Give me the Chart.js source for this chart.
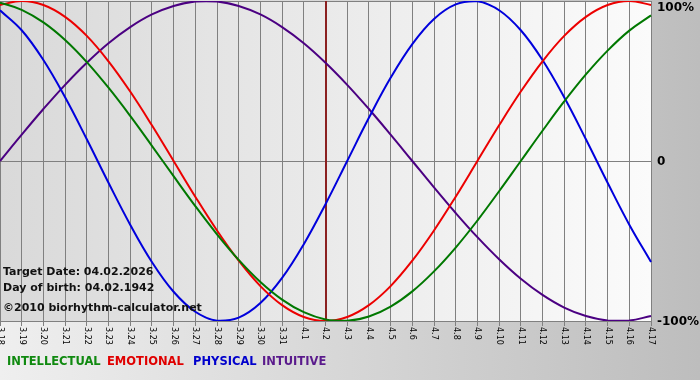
<!DOCTYPE html>
<html>
<head>
<meta charset="utf-8">
<script src="https://cdn.jsdelivr.net/npm/chart.js@4.4.1/dist/chart.umd.min.js"></script>
<style>
  body { margin: 0; padding: 0; background: #ffffff; }
  #wrap { width: 700px; height: 380px; }
</style>
</head>
<body>
<div id="wrap"><canvas id="myChart" width="700" height="380"></canvas></div>
<script>
// DATOS

const dias = ['3.18', '3.19', '3.20', '3.21', '3.22', '3.23', '3.24', '3.25', '3.26', '3.27', '3.28', '3.29', '3.30', '3.31',
    '4.1', '4.2', '4.3', '4.4', '4.5', '4.6', '4.7', '4.8', '4.9', '4.10', '4.11', '4.12', '4.13', '4.14', '4.15', '4.16', '4.17']

const intelectual = [0.990, 0.945, 0.866, 0.756, 0.618, 0.458, 0.282, 0.095, -0.095, -0.282, -0.458, -0.618, -0.756, -0.866, -0.945,
    -0.990, -0.999, -0.972, -0.910, -0.815, -0.690, -0.541, -0.372, -0.189, 0, 0.189, 0.372, 0.541, 0.690, 0.815, 0.910]

const emocional = [0.975, 1.000, 0.975, 0.901, 0.782, 0.623, 0.434, 0.223, 0, -0.223, -0.434, -0.623, -0.782, -0.901, -0.975,
    -1.000, -0.975, -0.901, -0.782, -0.623, -0.434, -0.223, 0, 0.223, 0.434, 0.623, 0.782, 0.901, 0.975, 1.000, 0.975]

const fisico = [0.942, 0.817, 0.631, 0.398, 0.136, -0.136, -0.398, -0.631, -0.817, -0.942, -0.998, -0.979, -0.888, -0.731, -0.520,
    -0.270, 0, 0.270, 0.520, 0.731, 0.888, 0.979, 0.998, 0.942, 0.817, 0.631, 0.398, 0.136, -0.136, -0.398, -0.631]

const intuitivo = [0, 0.165, 0.325, 0.476, 0.614, 0.736, 0.837, 0.916, 0.969, 0.997, 0.997, 0.969, 0.916, 0.837, 0.736,
    0.614, 0.476, 0.325, 0.165, 0, -0.165, -0.325, -0.476, -0.614, -0.736, -0.837, -0.916, -0.969, -0.997, -0.997, -0.969]

const yValores = [-1, 0, 1]
const yEtiquetas = ['-100%', '0', '100%']

const diaMarcado = '4.2'

const leyenda = ['INTELLECTUAL', 'EMOTIONAL', 'PHYSICAL', 'INTUITIVE']
const leyendaColores = ['#108a10', '#e00000', '#0000cc', '#5a1a8c']

const textos = ['Target Date: 04.02.2026', 'Day of birth: 04.02.1942', '\u00a92010 biorhythm-calculator.net']


// FONDO Y TEXTOS

const fondo = {
    id: 'fondo',
    beforeDraw(chart) {
        const { ctx, chartArea: a, width, height } = chart
        ctx.save()
        let g = ctx.createLinearGradient(0, 0, width, 0)
        g.addColorStop(0, '#efefef')
        g.addColorStop(1, '#bdbdbd')
        ctx.fillStyle = g
        ctx.fillRect(0, 0, width, height)
        g = ctx.createLinearGradient(a.left, 0, a.right, 0)
        g.addColorStop(0, '#d9d9d9')
        g.addColorStop(1, '#fbfbfb')
        ctx.fillStyle = g
        ctx.fillRect(a.left, a.top, a.right - a.left, a.bottom - a.top)
        ctx.restore()
    },
    beforeDatasetsDraw(chart) {
        // linea del dia objetivo
        const { ctx, chartArea: a, scales: { x } } = chart
        const px = Math.round(x.getPixelForValue(dias.indexOf(diaMarcado)))
        ctx.save()
        ctx.strokeStyle = '#8b2020'
        ctx.lineWidth = 2
        ctx.beginPath()
        ctx.moveTo(px, a.top)
        ctx.lineTo(px, a.bottom)
        ctx.stroke()
        ctx.restore()
    },
    afterDraw(chart) {
        const { ctx, chartArea: a, scales: { x, y } } = chart
        ctx.save()

        // etiquetas eje x (giradas)
        ctx.fillStyle = '#000'
        ctx.font = '8px "DejaVu Sans"'
        ctx.textAlign = 'left'
        ctx.textBaseline = 'middle'
        dias.forEach((d, i) => {
            ctx.save()
            ctx.translate(x.getPixelForValue(i), a.bottom + 6)
            ctx.rotate(Math.PI / 2)
            ctx.fillText(d, 0, 0)
            ctx.restore()
        })

        // etiquetas eje y
        ctx.font = 'bold 12px "DejaVu Sans"'
        yValores.forEach((v, i) => {
            const py = Math.max(y.getPixelForValue(v), a.top + 6)
            ctx.fillText(yEtiquetas[i], a.right + 6, py + 1)
        })

        // textos dentro de la grafica
        ctx.font = 'bold 11px "DejaVu Sans"'
        ctx.fillStyle = '#111'
        ctx.fillText(textos[0], 3, 272)
        ctx.fillText(textos[1], 3, 288)
        ctx.fillText(textos[2], 3, 308)

        // leyenda
        ctx.font = 'bold 11.5px "DejaVu Sans"'
        const leyendaX = [7, 107, 193, 262]
        leyenda.forEach((t, i) => {
            ctx.fillStyle = leyendaColores[i]
            ctx.fillText(t, leyendaX[i], 362)
        })
        ctx.restore()
    }
}


// GRAFICA

const ctx = document.getElementById('myChart')

const linea = (data, color) => ({
    data,
    borderColor: color,
    borderWidth: 2,
    pointRadius: 0,
    tension: 0.4,
    fill: false
})

const myChart = new Chart(ctx, {
    type: 'line',
    data: {
        labels: dias,
        datasets: [
            linea(intelectual, '#007800'),
            linea(emocional, '#ec0000'),
            linea(fisico, '#0000dc'),
            linea(intuitivo, '#4b0082')
        ]
    },
    options: {
        responsive: false,
        animation: false,
        layout: { padding: { top: 1, left: 0, right: 0, bottom: 0 } },
        plugins: { legend: { display: false }, tooltip: { enabled: false } },
        scales: {
            x: {
                offset: false,
                grid: { color: '#808080', lineWidth: 1, tickLength: 5, drawTicks: true },
                border: { color: '#808080' },
                ticks: { display: false, autoSkip: false },
                afterFit(s) { s.height = 59 }
            },
            y: {
                position: 'right',
                min: -1,
                max: 1,
                grid: { color: '#808080', drawTicks: false },
                border: { color: '#808080' },
                ticks: { display: false, stepSize: 1 },
                afterFit(s) { s.width = 49 }
            }
        }
    },
    plugins: [fondo]
})
</script>
</body>
</html>
